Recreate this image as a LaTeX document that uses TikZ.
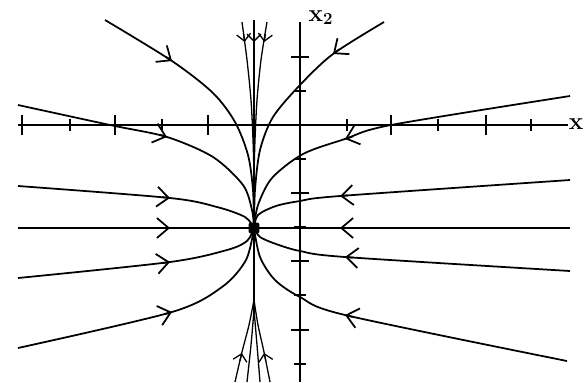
\documentclass[tikz,border=0pt]{standalone}
\usetikzlibrary{arrows.meta}

\begin{document}
\begin{tikzpicture}[
  x=0.03cm, y=-0.03cm,
  axis/.style={line width=1.3pt},
  orbit/.style={line width=1.5pt},
  flowtip/.style={orbit, -{Straight Barb[length=10pt,width=17pt]}},
  bundle/.style={line width=1.1pt},
  bundletip/.style={bundle, -{Straight Barb[length=6pt,width=12pt]}},
  equil/.style={fill=black, rectangle, rounded corners=1pt, minimum size=9pt, inner sep=0pt},
  lbl/.style={font=\huge\bfseries, inner sep=0pt}
]
\useasboundingbox (0,0) rectangle (586,382);
\coordinate (E) at (254,228);

% axes
\draw[axis] (18,125) -- (568,125);
\draw[axis] (300,22) -- (300,382);
\foreach \x in {22,115,208,391,486}
  \draw[axis] (\x,115) -- (\x,135);
\foreach \x in {70,162,347,438,531}
  \draw[axis] (\x,119) -- (\x,131);
\foreach \y in {57,193,261,330}
  \draw[axis] (291,\y) -- (309,\y);
\foreach \y in {91,159,227,295,364}
  \draw[axis] (294,\y) -- (306,\y);
\node[lbl] (xone) at (576,124) {x};
\node[lbl, anchor=north] (xtwo) at (321,10) {x$_{\mathbf 2}$};

% orbits from the left
\draw[orbit] plot[smooth] coordinates {(105,20) (172,61) (213,93) (235,122) (248,155) (253,190) (254,228)};
\draw[orbit] plot[smooth] coordinates {(18,105) (110,125) (167,137) (213,157) (243,185) (252,210) (254,228)};
\draw[orbit] plot[smooth] coordinates {(18,186) (170,198) (217,207) (245,217) (254,228)};
\draw[orbit] (18,228) -- (E);
\draw[orbit] plot[smooth] coordinates {(18,278) (170,262) (227,250) (247,241) (254,228)};
\draw[orbit] plot[smooth] coordinates {(18,348) (172,312) (222,287) (246,260) (254,228)};

% orbits from the right
\draw[orbit] plot[smooth] coordinates {(384,22) (333,54) (300,85) (273,117) (260,150) (255,190) (254,228)};
\draw[orbit] plot[smooth] coordinates {(570,96) (391,125) (345,139) (303,154) (272,178) (258,205) (254,228)};
\draw[orbit] plot[smooth] coordinates {(570,180) (340,196) (300,201) (276,206) (258,215) (254,228)};
\draw[orbit] (570,228) -- (E);
\draw[orbit] plot[smooth] coordinates {(570,271) (345,257) (300,251) (276,244) (260,237) (254,228)};
\draw[orbit] plot[smooth] coordinates {(567,361) (345,315) (300,297) (275,280) (260,257) (254,228)};

% arrow heads
\draw[flowtip] (165.4,56.5) -- (172,61);
\draw[flowtip] (159.4,134.6) -- (167,137);
\draw[flowtip] (162,197.2) -- (170,198);
\draw[flowtip] (162,228) -- (170,228);
\draw[flowtip] (162.1,263.1) -- (170,262);
\draw[flowtip] (164.3,314.2) -- (172,312);
\draw[flowtip] (339.4,49.2) -- (333,54);
\draw[flowtip] (352.6,136.5) -- (345,139);
\draw[flowtip] (348,195.4) -- (340,196);
\draw[flowtip] (348,228) -- (340,228);
\draw[flowtip] (353,257.6) -- (345,257);
\draw[flowtip] (352.8,316.9) -- (345,315);

% slow direction
\draw[line width=2.2pt] (254,20) -- (E) -- (254,312);
\draw[bundle] plot[smooth] coordinates {(242,22) (247,60) (251,100) (253,140) (254,175)};
\draw[bundle] plot[smooth] coordinates {(267,22) (261,60) (257,100) (255,140) (254,175)};
\draw[bundle] plot[smooth] coordinates {(235,382) (242,352) (249,325) (254,300)};
\draw[bundle] plot[smooth] coordinates {(270,382) (264,352) (258,325) (254,300)};
\draw[bundle] plot[smooth] coordinates {(247,382) (251,345) (254,310)};
\draw[bundle] plot[smooth] coordinates {(260,382) (257,345) (254,310)};
\draw[bundletip] (243.6,34.1) -- (244.6,42);
\draw[bundletip] (254,34) -- (254,42);
\draw[bundletip] (265.4,34.1) -- (264.2,42);
\draw[bundletip] (240,360.8) -- (241.8,353);
\draw[bundletip] (265.8,360.8) -- (264.2,353);

\node[equil] (eq) at (E) {};
\end{tikzpicture}
\end{document}
